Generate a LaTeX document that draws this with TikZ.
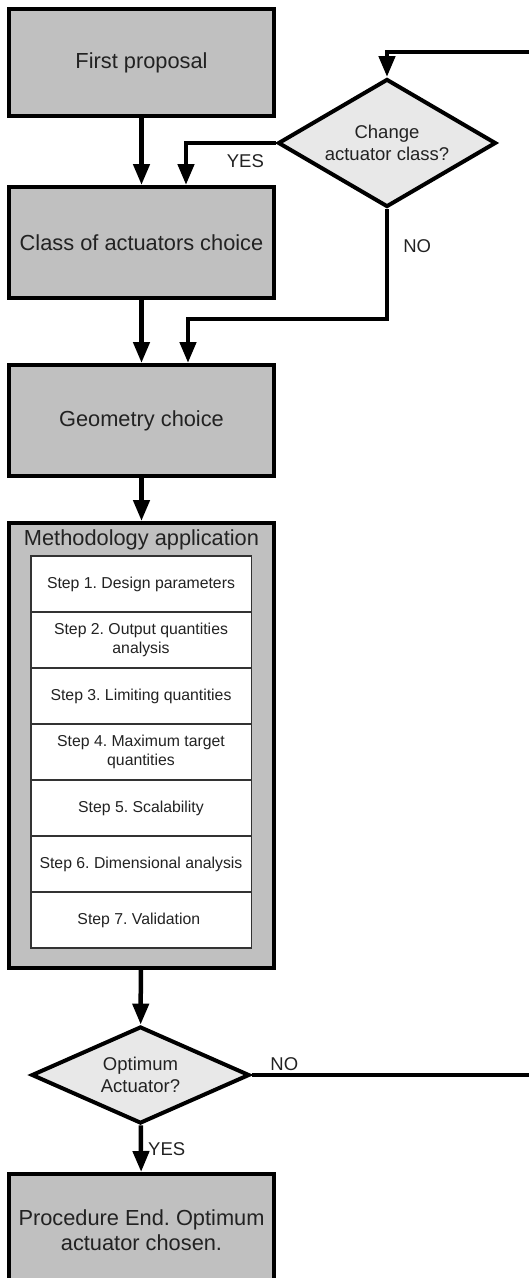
\documentclass[tikz,border=0pt]{standalone}
\usepackage{fontspec}
\setmainfont{Liberation Sans}
\usetikzlibrary{arrows.meta,positioning,shapes.geometric,calc}
\frenchspacing
\definecolor{boxgray}{RGB}{192,192,192}
\definecolor{diagray}{RGB}{232,232,232}
\definecolor{txtgray}{RGB}{34,34,34}
\definecolor{stepline}{RGB}{51,51,51}
\tikzset{
  bigbox/.style = {draw=black, line width=4pt, fill=boxgray, text=txtgray,
                   minimum width=265pt, inner sep=0pt, align=center,
                   font=\fontsize{21.8}{25}\selectfont},
  stepbox/.style = {draw=stepline, line width=1.5pt, fill=white, text=txtgray,
                    minimum width=220.5pt, minimum height=56pt, inner sep=0pt,
                    align=center, font=\fontsize{15.8}{18.5}\selectfont},
  decision/.style = {diamond, draw=black, line width=4pt, fill=diagray, text=txtgray,
                     minimum width=218pt, minimum height=97pt, inner sep=-8pt,
                     align=center, font=\fontsize{18.5}{22}\selectfont},
  flow/.style = {line width=4.5pt, -{Triangle[width=16pt,length=21pt]}},
  lbl/.style = {text=txtgray, inner sep=2pt, font=\fontsize{18.5}{22}\selectfont}
}
\begin{document}
\begin{tikzpicture}[x=1pt,y=-1pt]
  \useasboundingbox (0,0) rectangle (528,1278);

  \node[bigbox, minimum height=107pt] (first) at (141.5,62.5) {First proposal};
  \node[bigbox, minimum height=111pt] (classch) at (141.5,242.5) {Class of actuators choice};
  \node[bigbox, minimum height=111pt] (geom) at (141.5,420.5) {Geometry choice};
  \node[bigbox, minimum height=445pt] (meth) at (141.5,745.5) {};
  \node[text=txtgray, anchor=base, inner sep=0pt, font=\fontsize{21.8}{25}\selectfont]
       (methhead) at (141.5,545) {Methodology application};
  \foreach \txt [count=\i] in {
    {Step 1. Design parameters},
    {Step 2. Output quantities\\analysis},
    {Step 3. Limiting quantities},
    {Step 4. Maximum target\\quantities},
    {Step 5. Scalability},
    {Step 6. Dimensional analysis},
    {Step 7. Validation}
  }{
    \node[stepbox] (step\i) at (141,{556+28+(\i-1)*56}) {\txt};
  }
  \node[bigbox, minimum height=112pt] (done) at (141.5,1230) {Procedure End. Optimum\\actuator chosen.};

  \node[decision] (chg) at (387,143) {Change\\actuator class?};
  \node[decision] (opt) at (140.5,1075) {Optimum\\Actuator?};

  % loop back, runs off the right edge
  \coordinate (loopbot) at (545,1075);
  \coordinate (looptop) at (545,52);

  \draw[flow] (first) -- (classch);
  \draw[flow] (chg.west) -| node[lbl, pos=0.17, below=7pt] {YES} ([xshift=44.5pt]classch.north);
  \draw[flow] (chg.south) |- node[lbl, pos=0.17, right=12pt] {NO} ([xshift=46.5pt,yshift=44pt]geom.north)
              -- ([xshift=46.5pt]geom.north);
  \draw[flow] (classch) -- (geom);
  \draw[flow] (geom) -- (meth);
  \draw[flow] (meth) -- (opt);
  \draw[flow] (opt) -- node[lbl, right=3pt] {YES} (done);
  \draw[flow] (opt.east) -- node[lbl, pos=0.05, anchor=south west] {NO} (loopbot)
              -- (looptop) -| (chg.north);
\end{tikzpicture}
\end{document}
